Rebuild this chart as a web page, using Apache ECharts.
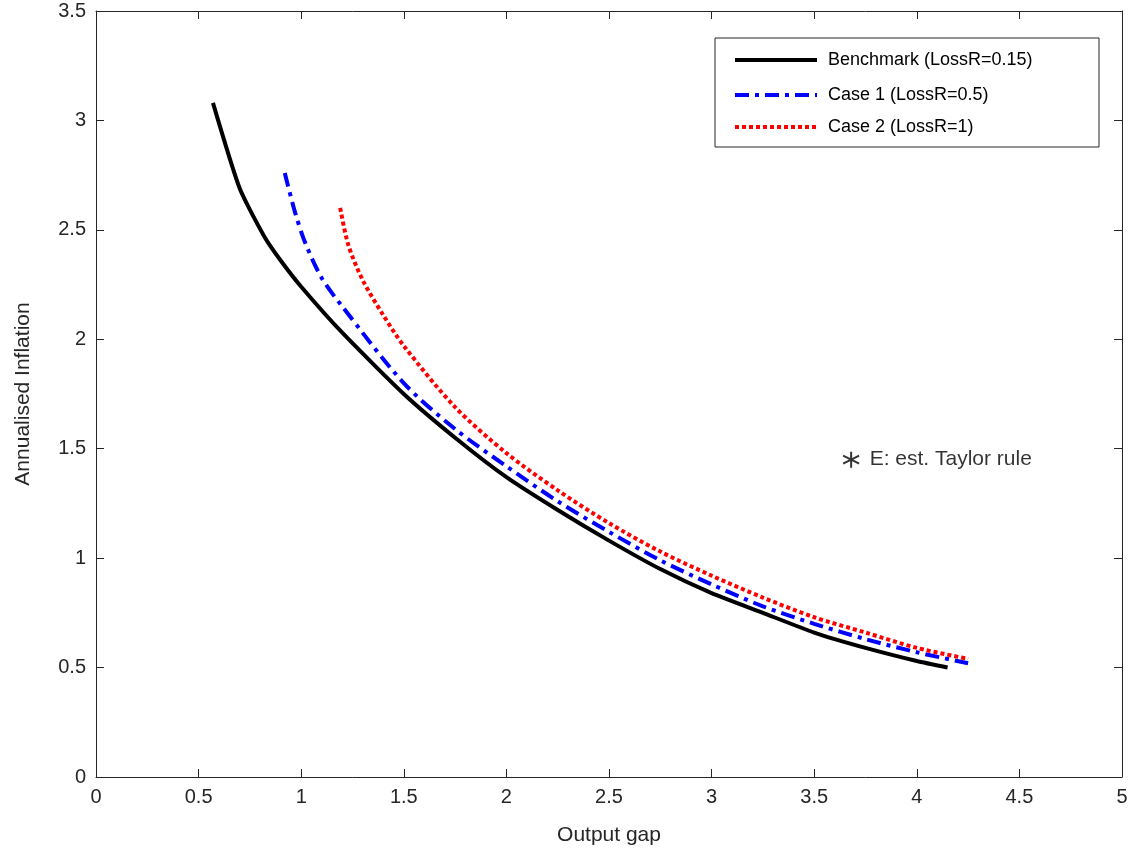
<!DOCTYPE html><html><head><meta charset="utf-8">
<script src="https://cdn.jsdelivr.net/npm/echarts@6/dist/echarts.min.js"></script>
<style>html,body{margin:0;background:#fff}#c{width:1142px;height:865px}</style></head><body><div id="c"></div>
<script>
const benchmark=[[0.57,3.08],[0.7,2.69],[0.82,2.47],[0.9,2.36],[1.0,2.24],[1.2,2.03],[1.5,1.75],[1.75,1.55],[2.0,1.37],[2.25,1.22],[2.5,1.08],[2.75,0.95],[3.0,0.84],[3.25,0.75],[3.5,0.66],[3.75,0.59],[4.0,0.53],[4.15,0.50]];
const case1=[[0.92,2.76],[0.97,2.58],[1.02,2.44],[1.1,2.28],[1.2,2.15],[1.5,1.80],[1.75,1.59],[2.0,1.42],[2.25,1.26],[2.5,1.12],[2.75,0.99],[3.0,0.88],[3.25,0.78],[3.5,0.70],[3.75,0.63],[4.0,0.57],[4.25,0.52]];
const case2=[[1.19,2.60],[1.23,2.43],[1.3,2.27],[1.4,2.11],[1.5,1.97],[1.75,1.69],[2.0,1.48],[2.25,1.31],[2.5,1.16],[2.75,1.03],[3.0,0.92],[3.25,0.82],[3.5,0.73],[3.75,0.66],[4.0,0.59],[4.25,0.54]];
const pointE=[[3.68,1.45]];
const legendNames=['Benchmark (LossR=0.15)','Case 1 (LossR=0.5)','Case 2 (LossR=1)'];
const F='Liberation Sans, Arial, sans-serif';
const ax=(show)=>({axisLine:{show:true,onZero:false,lineStyle:{color:'#262626'}},axisTick:{show:true,inside:true,length:8,lineStyle:{color:'#262626'}},axisLabel:{show:show,inside:false,color:'#262626',fontSize:20,fontFamily:F,margin:10},splitLine:{show:false}});
const c=echarts.init(document.getElementById('c'));
const styles=[{stroke:'#000',lineWidth:4},{stroke:'#0000ff',lineWidth:4,lineDash:[14,6,4,6]},{stroke:'#ff0000',lineWidth:4,lineDash:[4,3]}];
const ys=[60,95,127];
const g=[{type:'rect',shape:{x:715,y:38,width:384,height:109},style:{fill:'#fff',stroke:'#262626',lineWidth:1},z:99}];
legendNames.forEach((n,i)=>{
 g.push({type:'line',shape:{x1:735,y1:ys[i],x2:817,y2:ys[i]},style:styles[i],z:100});
 g.push({type:'text',x:828,y:ys[i],style:{text:n,font:'18px '+F,fill:'#000',textVerticalAlign:'middle',verticalAlign:'middle'},z:100});
});
c.setOption({animation:false,
grid:{left:96,right:20,top:11,bottom:88},
xAxis:[Object.assign({type:'value',min:0,max:5,interval:0.5,name:'Output gap',nameLocation:'middle',nameGap:48,nameTextStyle:{fontSize:21,color:'#262626',fontFamily:F}},ax(true)),
 Object.assign({type:'value',min:0,max:5,interval:0.5,position:'top'},ax(false))],
yAxis:[Object.assign({type:'value',min:0,max:3.5,interval:0.5,name:'Annualised Inflation',nameLocation:'middle',nameGap:62,nameTextStyle:{fontSize:21,color:'#262626',fontFamily:F}},ax(true)),
 Object.assign({type:'value',min:0,max:3.5,interval:0.5,position:'right'},ax(false))],
series:[
{name:legendNames[0],type:'line',data:benchmark,showSymbol:false,symbol:'none',smooth:0.2,lineStyle:{color:'#000',width:4}},
{name:legendNames[1],type:'line',data:case1,showSymbol:false,symbol:'none',smooth:0.3,lineStyle:{color:'#0000ff',width:4,type:[14,6,4,6]}},
{name:legendNames[2],type:'line',data:case2,showSymbol:false,symbol:'none',smooth:0.3,lineStyle:{color:'#ff0000',width:4,type:[4,3]}},
{type:'scatter',data:pointE,symbol:'path://M0,-1L0,1M-0.87,-0.5L0.87,0.5M-0.87,0.5L0.87,-0.5',symbolSize:16,itemStyle:{color:'none',borderColor:'#000',borderWidth:2},label:{show:true,position:'right',distance:8,formatter:'E: est. Taylor rule',fontSize:21,fontFamily:F,color:'#000'}},
{type:'line',data:[[0,0]],xAxisIndex:1,yAxisIndex:1,symbol:'none',lineStyle:{opacity:0},silent:true}
],
graphic:g});
</script></body></html>
